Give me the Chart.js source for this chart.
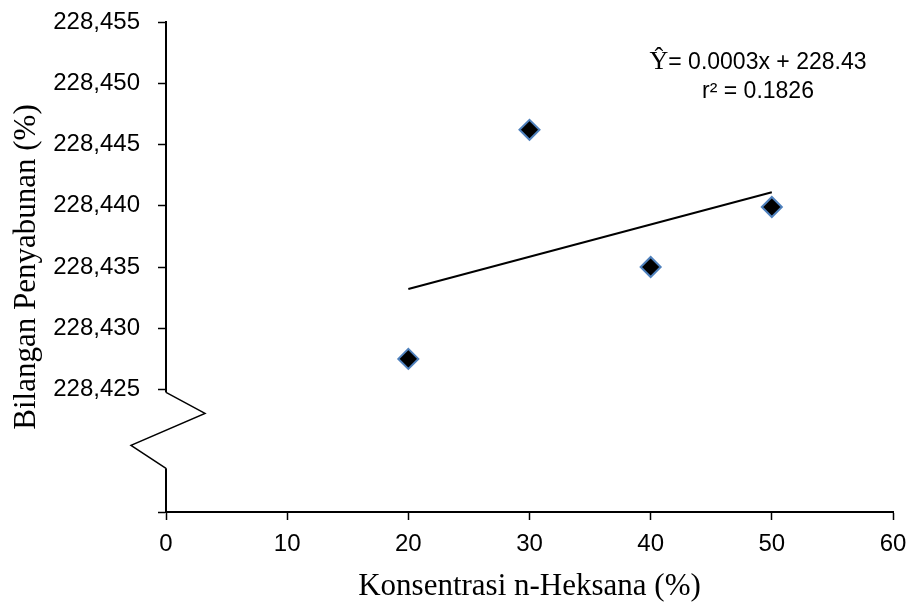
<!DOCTYPE html>
<html>
<head>
<meta charset="utf-8">
<script src="https://cdn.jsdelivr.net/npm/chart.js@4.4.0/dist/chart.umd.min.js"></script>
<style>
  html, body { margin: 0; padding: 0; background: #fff; }
  #wrap { width: 909px; height: 605px; }
</style>
</head>
<body>
<div id="wrap"><canvas id="chart" width="909" height="605"></canvas></div>
<script>
// ---- data ----
const konsentrasi = [20, 30, 40, 50];
const bilangan = [228.4275, 228.4462, 228.4350, 228.4399];
const trendX = [20, 50];
const trendY = [228.4332, 228.4411];
const xTicks = [0, 10, 20, 30, 40, 50, 60];
const yMin = 228.415, yMax = 228.455, yStep = 0.005;
const yFirstLabel = 228.425; // labels below this sit in the axis break
const eqLine1 = '= 0.0003x + 228.43';
const eqLine2 = 'r\u00B2 = 0.1826';

const sans = "'Liberation Sans', Arial, sans-serif";
const serif = "'Liberation Serif', 'Times New Roman', serif";

// axis break + regression text
const extras = {
  id: 'extras',
  afterDraw(chart) {
    const c = chart.ctx;
    const y = chart.scales.y, x = chart.scales.x;
    const ax = x.getPixelForValue(0);
    const yTop = y.getPixelForValue(228.42476);
    const yBot = y.getPixelForValue(228.41857);
    c.save();
    // knock out the axis line inside the break
    c.fillStyle = '#fff';
    c.fillRect(ax - 3, yTop, 6, yBot - yTop);
    c.strokeStyle = '#000';
    c.lineWidth = 1.5;
    c.beginPath();
    c.moveTo(ax, yTop);
    c.lineTo(ax + 39, y.getPixelForValue(228.42305));
    c.lineTo(ax - 35, y.getPixelForValue(228.42044));
    c.lineTo(ax, yBot);
    c.stroke();

    // regression equation
    const cx = chart.chartArea.right - 135;
    const y1 = chart.chartArea.top + 40;
    const y2 = chart.chartArea.top + 70;
    c.fillStyle = '#000';
    c.textBaseline = 'middle';
    c.font = "23px " + sans;
    const w1 = c.measureText(eqLine1).width;
    c.font = "26px " + serif;
    const wy = c.measureText('\u0176').width;
    let sx = cx - (w1 + wy) / 2;
    c.textAlign = 'left';
    c.fillText('\u0176', sx, y1);
    c.font = "23px " + sans;
    c.fillText(eqLine1, sx + wy, y1 + 1);
    c.textAlign = 'center';
    c.fillText(eqLine2, cx, y2);
    c.restore();
  }
};

const chart = new Chart(document.getElementById('chart'), {
  type: 'scatter',
  data: {
    datasets: [
      {
        label: 'Bilangan Penyabunan',
        data: konsentrasi.map((k, i) => ({ x: k, y: bilangan[i] })),
        pointStyle: 'rectRot',
        pointRadius: 10,
        pointHoverRadius: 10,
        backgroundColor: '#000',
        borderColor: '#4F81BD',
        borderWidth: 2,
      },
      {
        label: 'Linear',
        type: 'line',
        data: trendX.map((k, i) => ({ x: k, y: trendY[i] })),
        borderColor: '#000',
        borderWidth: 2,
        pointRadius: 0,
        fill: false,
      },
    ],
  },
  options: {
    responsive: false,
    animation: false,
    layout: { padding: { top: 22, right: 16, left: 0, bottom: 0 } },
    plugins: {
      legend: { display: false },
      tooltip: { enabled: false },
    },
    scales: {
      x: {
        type: 'linear',
        min: 0,
        max: 60,
        afterBuildTicks: (s) => { s.ticks = xTicks.map(v => ({ value: v })); },
        afterFit: (s) => { s.height = 93; s.paddingLeft = 0; s.paddingRight = 0; },
        border: { color: '#000', width: 2 },
        grid: { drawOnChartArea: false, tickLength: 8, tickColor: '#000', tickWidth: 1.5 },
        ticks: {
          color: '#000',
          font: { family: sans, size: 24 },
          padding: 10,
        },
        title: {
          display: true,
          text: 'Konsentrasi n-Heksana (%)',
          color: '#000',
          font: { family: serif, size: 31 },
          padding: { top: 2, bottom: 0 },
        },
      },
      y: {
        type: 'linear',
        min: yMin,
        max: yMax,
        afterBuildTicks: (s) => {
          const t = [];
          for (let i = 0; i <= Math.round((yMax - yMin) / yStep); i++) t.push({ value: yMin + i * yStep });
          s.ticks = t;
        },
        afterFit: (s) => { s.width = 166; s.paddingTop = 0; s.paddingBottom = 0; },
        border: { color: '#000', width: 2 },
        grid: {
          drawOnChartArea: false,
          tickLength: 8,
          tickWidth: 1.5,
          tickColor: (ctx) => (ctx.tick && ctx.tick.value > 228.419 && ctx.tick.value < 228.421) ? 'rgba(0,0,0,0)' : '#000',
        },
        ticks: {
          color: '#000',
          font: { family: sans, size: 24 },
          padding: 18,
          callback: (v) => v < yFirstLabel - 0.0001 ? '' : v.toFixed(3).replace('.', ','),
        },
        title: {
          display: true,
          text: 'Bilangan Penyabunan (%)',
          color: '#000',
          font: { family: serif, size: 31 },
          padding: { top: 8, bottom: 4 },
        },
      },
    },
  },
  plugins: [extras],
});
</script>
</body>
</html>
